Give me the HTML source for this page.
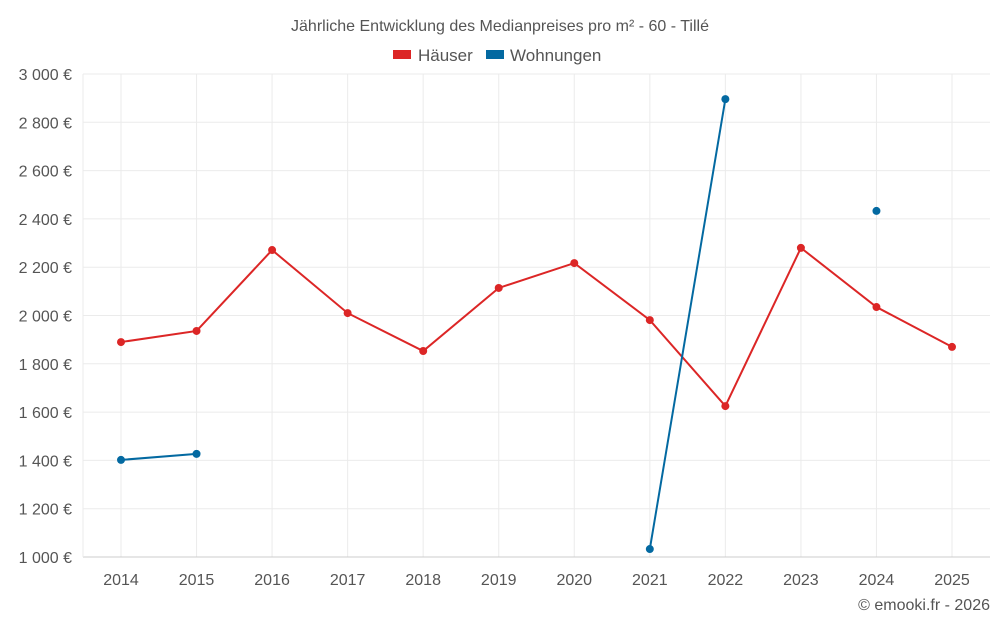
<!DOCTYPE html>
<html><head><meta charset="utf-8"><style>
body{margin:0;background:#fff;font-family:"Liberation Sans",sans-serif;}
svg text{font-family:"Liberation Sans",sans-serif;fill:#555;}
</style></head><body>
<svg id="c" width="1000" height="625"></svg>
<script>
const years=[2014,2015,2016,2017,2018,2019,2020,2021,2022,2023,2024,2025];
const haeuser=[1890,1936,2271,2010,1853,2114,2217,1981,1625,2280,2035,1870];
const wohnungen=[1402,1427,null,null,null,null,null,1033,2896,null,2433,null];
const yTicks=[1000,1200,1400,1600,1800,2000,2200,2400,2600,2800,3000];
const yTickLabels=["1 000 €","1 200 €","1 400 €","1 600 €","1 800 €","2 000 €","2 200 €","2 400 €","2 600 €","2 800 €","3 000 €"];
const svg=document.getElementById('c');const NS='http://www.w3.org/2000/svg';
const L=83,R=990,T=74,B=557;
const x=i=>121+i*(952-121)/(years.length-1);
const y=v=>B-(v-1000)/2000*(B-T);
function el(t,a,p){const e=document.createElementNS(NS,t);for(const k in a)e.setAttribute(k,a[k]);(p||svg).appendChild(e);return e;}
let g=el('g',{});

yTicks.forEach((v,i)=>{el('line',{x1:L,x2:R,y1:y(v),y2:y(v),stroke:'#ebebeb'},g);
const t=el('text',{x:72,y:y(v)+6,'text-anchor':'end','font-size':16});t.textContent=yTickLabels[i];
});
years.forEach((yr,i)=>{el('line',{x1:x(i),x2:x(i),y1:T,y2:B,stroke:'#ebebeb'},g);
const t=el('text',{x:x(i),y:585,'text-anchor':'middle','font-size':16});t.textContent=yr;
});
el('line',{x1:L,x2:R,y1:B,y2:B,stroke:'#ccc'});
el('line',{x1:L,x2:L,y1:T,y2:B,stroke:'#ebebeb'});
function series(data,color,name){const sg=el('g',{});

let d='',pen=false;data.forEach((v,i)=>{if(v==null){pen=false;return;}d+=(pen?'L':'M')+x(i)+' '+y(v)+' ';pen=true;});
el('path',{d:d,fill:'none',stroke:color,'stroke-width':2},sg);
data.forEach((v,i)=>{if(v==null)return;const c=el('circle',{cx:x(i),cy:y(v),r:4,fill:color},sg);
});}
series(haeuser,'#dc2626','series-haeuser');
series(wohnungen,'#0369a1','series-wohnungen');
let t=el('text',{x:500,y:31,'text-anchor':'middle','font-size':16});t.textContent='Jährliche Entwicklung des Medianpreises pro m² - 60 - Tillé';

let lg=el('g',{});
el('rect',{x:393,y:50,width:18,height:9,fill:'#dc2626'},lg);
t=el('text',{x:418,y:61,'font-size':17},lg);t.textContent='Häuser';

el('rect',{x:486,y:50,width:18,height:9,fill:'#0369a1'},lg);
t=el('text',{x:510,y:61,'font-size':17},lg);t.textContent='Wohnungen';

t=el('text',{x:990,y:610,'text-anchor':'end','font-size':16});t.textContent='© emooki.fr - 2026';

</script>
</body></html>
